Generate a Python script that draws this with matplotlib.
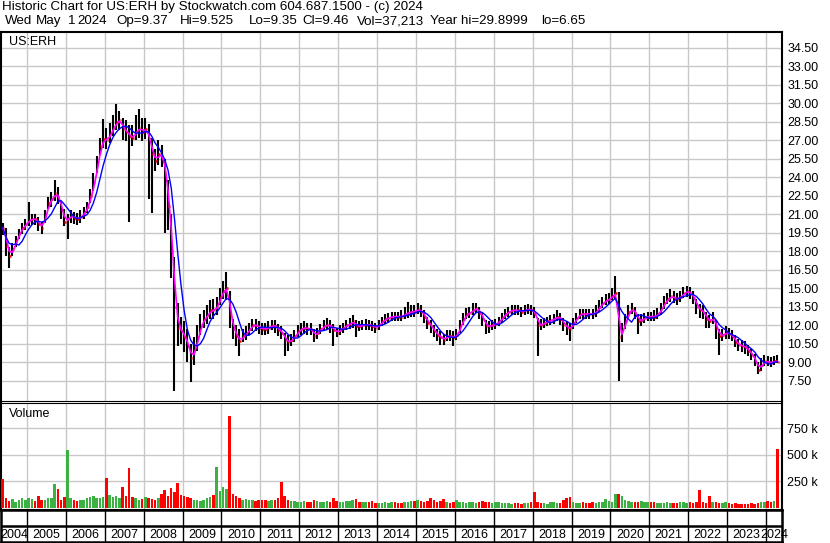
import numpy as np
import pandas as pd
import matplotlib
matplotlib.use("Agg")
import matplotlib.pyplot as plt

plt.rcParams['font.family'] = ['Liberation Sans', 'DejaVu Sans']

# monthly data, May 2004 .. Apr 2024 (one row per year)
close = [
    19.9, 18.4, 17.6, 18.2, 18.8, 19.5, 19.9, 20.2,
    20.5, 20.6, 20.6, 20.2, 19.9, 20.9, 21.9, 22.2, 22.7, 22.4, 21.3, 20.4,
    20.6, 20.9, 20.7, 20.6, 20.8, 21.1, 21.6, 22.5, 23.6, 25.0, 26.5, 27.1,
    27.0, 27.5, 28.0, 28.5, 28.6, 27.9, 27.7, 27.3, 27.2, 27.7, 28.0, 27.7,
    27.9, 27.1, 25.9, 25.3, 25.9, 25.7, 24.3, 21.7, 18.0, 13.5, 11.8, 11.5,
    11.0, 10.3, 9.3, 9.9, 11.0, 12.0, 12.5, 12.8, 13.2, 13.2, 13.5, 14.3,
    14.8, 15.0, 12.8, 11.7, 11.1, 10.7, 11.1, 11.3, 11.7, 12.0, 12.0, 11.8,
    11.7, 11.7, 11.8, 12.0, 11.9, 11.6, 11.4, 10.8, 10.6, 10.8, 11.1, 11.5,
    11.7, 11.8, 11.7, 11.7, 11.1, 11.4, 11.7, 11.9, 12.05, 11.9, 11.6, 11.4,
    11.6, 11.8, 12.0, 12.1, 12.3, 11.9, 11.9, 12.0, 12.05, 12.0, 11.9, 11.8,
    12.0, 12.3, 12.5, 12.6, 12.7, 12.7, 12.7, 12.7, 12.9, 13.0, 13.1, 13.1,
    13.3, 13.1, 12.7, 12.2, 11.9, 11.5, 11.2, 11.0, 10.8, 11.1, 11.1, 11.0,
    11.2, 11.9, 12.5, 12.9, 13.0, 13.2, 13.4, 13.0, 12.5, 11.9, 11.9, 12.0,
    12.1, 12.3, 12.6, 12.9, 13.1, 13.2, 13.2, 13.2, 13.1, 13.2, 13.3, 13.2,
    13.0, 12.0, 12.0, 12.2, 12.3, 12.4, 12.5, 12.7, 12.5, 12.05, 11.8, 11.7,
    12.2, 12.6, 12.9, 12.9, 12.9, 12.9, 12.9, 13.1, 13.5, 13.8, 14.0, 14.1,
    14.4, 14.6, 11.0, 11.5, 12.3, 13.1, 13.3, 13.0, 12.3, 12.4, 12.6, 12.7,
    12.7, 12.7, 12.9, 13.3, 13.8, 14.1, 14.35, 14.2, 14.1, 14.3, 14.6, 14.75,
    14.6, 14.2, 13.5, 13.2, 13.1, 12.5, 12.3, 12.6, 11.8, 11.1, 11.2, 11.4,
    11.3, 11.1, 10.6, 10.4, 10.3, 10.2, 9.9, 9.6, 9.1, 8.4, 8.8, 9.1,
    9.0, 8.95, 9.1, 9.05,
]

high = [
    20.3, 19.9, 18.3, 18.7, 19.2, 19.8, 20.3, 20.6,
    22.0, 21.0, 21.0, 20.8, 20.4, 21.3, 22.4, 22.8, 23.8, 23.2, 22.0, 21.4,
    21.0, 21.3, 21.2, 21.1, 21.3, 21.6, 22.0, 23.0, 24.3, 25.7, 27.2, 28.7,
    28.0, 28.4, 29.0, 29.9, 29.4, 28.8, 28.6, 28.2, 28.2, 29.0, 29.5, 28.8,
    28.8, 28.3, 27.2, 26.3, 27.0, 26.6, 25.5, 23.8, 21.0, 17.5, 13.8, 12.7,
    12.3, 11.7, 10.5, 11.0, 12.0, 12.9, 13.2, 13.6, 14.0, 14.1, 14.3, 15.0,
    15.6, 16.3, 14.8, 12.5, 12.0, 11.7, 11.7, 11.9, 12.2, 12.5, 12.5, 12.3,
    12.2, 12.2, 12.3, 12.4, 12.4, 12.1, 11.9, 11.4, 11.2, 11.3, 11.6, 12.0,
    12.2, 12.3, 12.2, 12.2, 11.7, 11.8, 12.1, 12.4, 12.6, 12.4, 12.1, 11.8,
    12.0, 12.2, 12.4, 12.6, 12.8, 12.4, 12.3, 12.4, 12.5, 12.4, 12.3, 12.2,
    12.4, 12.7, 12.9, 13.0, 13.1, 13.1, 13.1, 13.2, 13.5, 13.9, 13.6, 13.6,
    13.8, 13.6, 13.2, 12.7, 12.4, 12.0, 11.7, 11.5, 11.3, 11.6, 11.6, 11.5,
    11.7, 12.4, 13.0, 13.4, 13.5, 13.8, 13.8, 13.5, 13.0, 12.4, 12.3, 12.4,
    12.5, 12.7, 13.0, 13.3, 13.5, 13.6, 13.6, 13.6, 13.5, 13.6, 13.7, 13.6,
    13.5, 12.6, 12.5, 12.6, 12.7, 12.8, 12.9, 13.2, 13.0, 12.6, 12.3, 12.2,
    12.6, 13.0, 13.3, 13.3, 13.3, 13.3, 13.3, 13.6, 14.0, 14.3, 14.5, 14.6,
    15.0, 16.0, 14.7, 12.2, 12.9, 13.6, 13.8, 13.5, 12.9, 12.9, 13.0, 13.1,
    13.1, 13.2, 13.4, 13.8, 14.4, 14.6, 14.9, 14.8, 14.6, 14.8, 15.1, 15.2,
    15.1, 14.8, 14.1, 13.7, 13.6, 13.1, 12.8, 13.1, 12.4, 11.7, 11.7, 11.9,
    11.8, 11.6, 11.2, 10.9, 10.8, 10.7, 10.4, 10.1, 9.7, 9.0, 9.3, 9.6,
    9.5, 9.4, 9.5, 9.6,
]

low = [
    19.3, 17.6, 16.6, 17.6, 18.3, 19.0, 19.4, 19.7,
    20.0, 20.1, 20.1, 19.6, 19.4, 20.3, 21.4, 21.6, 22.1, 21.8, 20.6, 20.0,
    19.0, 20.3, 20.2, 20.1, 20.3, 20.6, 21.1, 21.9, 22.9, 24.3, 25.8, 26.4,
    26.3, 26.8, 27.3, 27.8, 27.8, 27.0, 26.9, 20.4, 26.5, 27.0, 27.2, 26.9,
    27.1, 22.2, 21.1, 24.5, 25.0, 24.8, 19.5, 19.7, 15.8, 6.7, 10.3, 10.5,
    9.8, 9.0, 7.4, 8.8, 9.9, 11.2, 11.8, 12.1, 12.5, 12.5, 12.8, 13.6,
    14.1, 14.0, 11.8, 10.9, 10.3, 9.5, 10.6, 10.8, 11.2, 11.5, 11.5, 11.3,
    11.2, 11.2, 11.3, 11.6, 11.4, 11.1, 10.9, 9.5, 9.9, 10.3, 10.6, 11.0,
    11.2, 11.3, 11.2, 11.2, 10.6, 10.9, 11.3, 11.5, 11.6, 11.4, 10.3, 11.0,
    11.2, 11.4, 11.6, 11.7, 11.8, 11.0, 11.5, 11.6, 11.6, 11.6, 11.5, 11.4,
    11.6, 11.9, 12.1, 12.2, 12.3, 12.3, 12.3, 12.3, 12.5, 12.6, 12.7, 12.7,
    12.9, 12.7, 12.2, 11.7, 11.4, 11.0, 10.7, 10.4, 10.4, 10.7, 10.7, 10.3,
    10.8, 11.4, 12.0, 12.5, 12.6, 12.8, 13.0, 12.5, 11.9, 11.3, 11.4, 11.6,
    11.7, 11.9, 12.2, 12.5, 12.7, 12.8, 12.8, 12.8, 12.7, 12.8, 12.9, 12.8,
    12.6, 9.5, 11.6, 11.8, 11.9, 12.0, 12.1, 12.3, 12.0, 11.5, 11.2, 10.7,
    11.7, 12.2, 12.5, 12.5, 12.5, 12.5, 12.5, 12.7, 13.1, 13.4, 13.6, 13.7,
    14.0, 14.1, 7.45, 10.6, 11.7, 12.6, 12.9, 12.5, 11.3, 11.9, 12.2, 12.3,
    12.3, 12.3, 12.5, 12.8, 13.3, 13.7, 13.9, 13.8, 13.6, 13.9, 14.2, 14.3,
    14.1, 13.7, 12.9, 12.6, 12.5, 11.8, 11.8, 12.1, 10.9, 9.6, 10.7, 10.9,
    10.9, 10.7, 10.2, 9.9, 9.8, 9.7, 9.5, 9.2, 8.7, 8.0, 8.3, 8.7,
    8.7, 8.6, 8.8, 8.9,
]

# volume in thousands
volume = [
    278, 90, 70, 85, 60, 75, 95, 80,
    90, 85, 70, 110, 75, 80, 95, 90, 228, 182, 80, 100,
    547, 90, 80, 70, 75, 80, 95, 100, 110, 90, 95, 100,
    285, 120, 100, 110, 90, 199, 110, 374, 100, 90, 80, 85,
    100, 90, 85, 80, 95, 130, 173, 110, 189, 150, 237, 120,
    110, 100, 90, 80, 75, 70, 80, 90, 100, 120, 390, 160,
    200, 180, 867, 130, 110, 90, 80, 85, 80, 75, 70, 80,
    75, 80, 70, 75, 80, 90, 243, 110, 80, 70, 65, 60,
    60, 70, 55, 60, 80, 65, 60, 55, 70, 60, 90, 65,
    60, 55, 65, 70, 75, 85, 60, 55, 60, 55, 70, 50,
    50, 45, 55, 50, 60, 55, 50, 45, 60, 55, 65, 70,
    80, 70, 60, 65, 90, 75, 60, 70, 85, 60, 50, 55,
    80, 60, 55, 50, 60, 55, 50, 55, 70, 60, 55, 50,
    60, 55, 45, 50, 45, 40, 50, 45, 40, 45, 50, 55,
    147, 60, 50, 45, 40, 55, 60, 50, 45, 80, 95, 99,
    60, 50, 45, 55, 50, 45, 55, 50, 60, 55, 85, 70,
    60, 134, 130, 110, 80, 70, 60, 55, 60, 70, 60, 55,
    60, 55, 50, 45, 50, 60, 45, 50, 45, 55, 60, 50,
    55, 50, 60, 173, 60, 50, 115, 60, 55, 50, 45, 55,
    45, 40, 45, 40, 35, 40, 35, 45, 40, 50, 55, 60,
    65, 60, 70, 557,
]

years = list(range(2004, 2025))
price_ticks = np.arange(7.5, 34.6, 1.5)
vol_ticks = [250000, 500000, 750000]
vol_labels = ['250 k', '500 k', '750 k']

line1 = "Historic Chart for US:ERH by Stockwatch.com 604.687.1500 - (c) 2024"
line2 = ["Wed", "May", "1", "2024", "Op=9.37", "Hi=9.525", "Lo=9.35",
         "Cl=9.46", "Vol=37,213", "Year hi=29.8999", "lo=6.65"]
line2_x = [5, 36, 68, 77, 116, 180, 249, 302, 357, 430, 541]  # pixel x

df = pd.DataFrame({'close': close, 'high': high, 'low': low, 'vol': np.array(volume) * 1000})
df['t'] = 2004 + (np.arange(4, 4 + len(df)) + 0.5) / 12
df['ma_fast'] = df['close'].rolling(2, min_periods=1).mean()
df['ma_slow'] = df['close'].rolling(5, min_periods=1).mean()
up = df['close'].diff() > 0

x0, x1 = 2004.332, 2024.41
grid_c = '#c8c8c8'
fs = 9.0
fs_head = 9.6

fig = plt.figure(figsize=(8.3, 5.43), dpi=100)
W, H = 830, 543


def box(top, bottom):
    return [1 / W, 1 - bottom / H, 781 / W, (bottom - top) / H]


ax = fig.add_axes(box(32, 401))
axv = fig.add_axes(box(403, 510))
axb = fig.add_axes(box(510, 542))

# price panel
ax.vlines(df['t'], df['low'], df['high'], color='black', lw=1.5, zorder=3)
ax.hlines(df['close'], df['t'] + 0.004, df['t'] + 0.04, color='red', lw=1.8, zorder=4)
ax.plot(df['t'], df['ma_fast'], color='#ff00ff', lw=1.2, zorder=5)
ax.plot(df['t'], df['ma_slow'], color='#0000ff', lw=1.0, zorder=6)
ax.set_xlim(x0, x1)
ax.set_ylim(5.85, 35.77)
ax.set_yticks(price_ticks)
ax.set_yticklabels(['%.2f' % v for v in price_ticks])
ax.text(x0 + 8 / 38.9, 35.77 - 10 / 12.33, 'US:ERH', fontsize=fs, va='center', ha='left', zorder=7)

# volume panel
vcol = np.where(up, '#3cb043', '#ff0000')
axv.bar(df['t'], df['vol'], width=0.065, color=vcol, zorder=3)
axv.set_xlim(x0, x1)
axv.set_ylim(-18900, 990000)
axv.set_yticks(vol_ticks)
axv.set_yticklabels(vol_labels)
axv.text(x0 + 8 / 38.9, 990000 - 10.5 * 9434, 'Volume', fontsize=fs, va='center', ha='left')

for a in (ax, axv):
    a.set_xticks(years[1:])
    a.grid(True, color=grid_c, lw=1.0, zorder=0)
    a.set_axisbelow(True)
    a.tick_params(axis='x', length=0, labelbottom=False)
    a.yaxis.tick_right()
    a.tick_params(axis='y', length=0, pad=3.8, labelsize=fs)
    for s in a.spines.values():
        s.set_linewidth(1.5)
ax.spines['bottom'].set_linewidth(0.8)
axv.spines['top'].set_linewidth(0.8)

# year boxes below
axb.set_xlim(x0, x1)
axb.set_ylim(0, 32)
axb.vlines(years[1:], 0, 32, color='black', lw=1.0)
axb.axhline(16, color='black', lw=1.8)
for y in years:
    lo_, hi_ = max(y, x0), min(y + 1, x1)
    axb.text((lo_ + hi_) / 2, 7.5, str(y), fontsize=fs, ha='center', va='center')
axb.set_xticks([])
axb.set_yticks([])
for s in axb.spines.values():
    s.set_linewidth(1.8)

fig.text(2 / W, 1 - 1 / H, line1, fontsize=fs_head, va='top', ha='left')
for word, px in zip(line2, line2_x):
    fig.text(px / W, 1 - 15 / H, word, fontsize=fs_head, va='top', ha='left')

fig.savefig('out.png', dpi=100)
